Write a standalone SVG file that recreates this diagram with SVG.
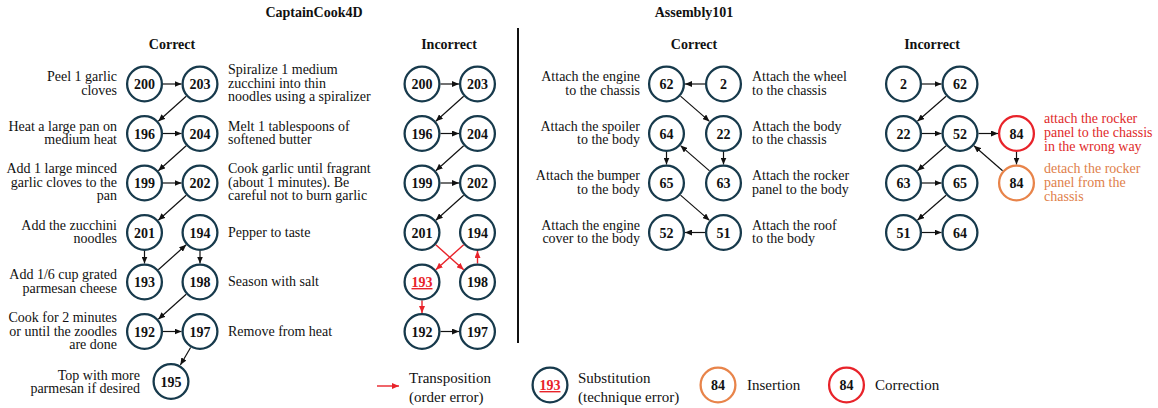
<svg xmlns="http://www.w3.org/2000/svg" width="1158" height="408" viewBox="0 0 1158 408">
  <defs>
    <style>
      text { font-family: "Liberation Serif", "Times New Roman", serif; fill: #111; }
      .title { font-size: 14px; font-weight: bold; text-anchor: middle; }
      .lbl { font-size: 14px; }
      .l { text-anchor: end; }
      .r { text-anchor: start; }
      .leg { font-size: 15px; }
      .node circle { fill: #fff; stroke: #173a4c; stroke-width: 2.3; }
      .node text { font-size: 14px; font-weight: bold; text-anchor: middle; }
      .node.ins circle { stroke: #e8844a; }
      .node.cor circle { stroke: #e8232a; }
      .sub { fill: #e8232a; text-decoration: underline; }
      .edge { stroke: #111; stroke-width: 1.2; fill: none; marker-end: url(#ah); }
      .edge.red { stroke: #e8232a; stroke-width: 1.4; marker-end: url(#ahr); }
      .redtxt { fill: #e02a2a; }
      .orgtxt { fill: #e0804a; }
    </style>
    <marker id="ah" markerUnits="userSpaceOnUse" markerWidth="7" markerHeight="6" refX="7" refY="3" orient="auto">
      <path d="M0,0 L7,3 L0,6 z" fill="#111"/>
    </marker>
    <marker id="ahr" markerUnits="userSpaceOnUse" markerWidth="7" markerHeight="6" refX="7" refY="3" orient="auto">
      <path d="M0,0 L7,3 L0,6 z" fill="#e8232a"/>
    </marker>
  </defs>
  <rect width="1158" height="408" fill="#fff"/>

  <!-- headings -->
  <text class="title" x="314" y="17">CaptainCook4D</text>
  <text class="title" x="694" y="17">Assembly101</text>
  <text class="title" x="172" y="48.5">Correct</text>
  <text class="title" x="449" y="48.5">Incorrect</text>
  <text class="title" x="694" y="48.5">Correct</text>
  <text class="title" x="932" y="48.5">Incorrect</text>

  <!-- divider -->
  <line x1="518" y1="28" x2="518" y2="343" stroke="#111" stroke-width="2"/>

  <!-- step descriptions, CaptainCook4D -->
  <g id="cc-labels" class="lbl">
    <text class="l" x="117" y="81.25">Peel 1 garlic</text>
    <text class="l" x="117" y="94.75">cloves</text>
    <text class="l" x="117" y="130.75">Heat a large pan on</text>
    <text class="l" x="117" y="144.25">medium heat</text>
    <text class="l" x="117" y="173">Add 1 large minced</text>
    <text class="l" x="117" y="186.5">garlic cloves to the</text>
    <text class="l" x="117" y="200">pan</text>
    <text class="l" x="117" y="229.75">Add the zucchini</text>
    <text class="l" x="117" y="243.25">noodles</text>
    <text class="l" x="117" y="279.25">Add 1/6 cup grated</text>
    <text class="l" x="117" y="292.75">parmesan cheese</text>
    <text class="l" x="117" y="322">Cook for 2 minutes</text>
    <text class="l" x="117" y="335.5">or until the zoodles</text>
    <text class="l" x="117" y="349">are done</text>
    <text class="l" x="140" y="379.5">Top with more</text>
    <text class="l" x="140" y="393">parmesan if desired</text>

    <text class="r" x="228" y="74">Spiralize 1 medium</text>
    <text class="r" x="228" y="87.5">zucchini into thin</text>
    <text class="r" x="228" y="101">noodles using a spiralizer</text>
    <text class="r" x="228" y="130.75">Melt 1 tablespoons of</text>
    <text class="r" x="228" y="144.25">softened butter</text>
    <text class="r" x="228" y="173">Cook garlic until fragrant</text>
    <text class="r" x="228" y="186.5">(about 1 minutes). Be</text>
    <text class="r" x="228" y="200">careful not to burn garlic</text>
    <text class="r" x="228" y="236.5">Pepper to taste</text>
    <text class="r" x="228" y="286">Season with salt</text>
    <text class="r" x="228" y="335.5">Remove from heat</text>
  </g>

  <!-- step descriptions, Assembly101 -->
  <g id="as-labels" class="lbl">
    <text class="l" x="640" y="81.25">Attach the engine</text>
    <text class="l" x="640" y="94.75">to the chassis</text>
    <text class="l" x="640" y="130.75">Attach the spoiler</text>
    <text class="l" x="640" y="144.25">to the body</text>
    <text class="l" x="640" y="180.25">Attach the bumper</text>
    <text class="l" x="640" y="193.75">to the body</text>
    <text class="l" x="640" y="229.75">Attach the engine</text>
    <text class="l" x="640" y="243.25">cover to the body</text>

    <text class="r" x="752" y="81.25">Attach the wheel</text>
    <text class="r" x="752" y="94.75">to the chassis</text>
    <text class="r" x="752" y="130.75">Attach the body</text>
    <text class="r" x="752" y="144.25">to the chassis</text>
    <text class="r" x="752" y="180.25">Attach the rocker</text>
    <text class="r" x="752" y="193.75">panel to the body</text>
    <text class="r" x="752" y="229.75">Attach the roof</text>
    <text class="r" x="752" y="243.25">to the body</text>

    <text class="r redtxt" x="1044" y="123">attach the rocker</text>
    <text class="r redtxt" x="1044" y="137">panel to the chassis</text>
    <text class="r redtxt" x="1044" y="151">in the wrong way</text>
    <text class="r orgtxt" x="1044" y="172.5">detach the rocker</text>
    <text class="r orgtxt" x="1044" y="186.5">panel from the</text>
    <text class="r orgtxt" x="1044" y="200.5">chassis</text>
  </g>

  <!-- connectors -->
  <g id="connectors">
    <!-- CaptainCook4D, correct -->
    <line class="edge" x1="163" y1="84" x2="181.5" y2="84"/>
    <line class="edge" x1="186.2" y1="96.3" x2="158.3" y2="121.2"/>
    <line class="edge" x1="163" y1="133.5" x2="181.5" y2="133.5"/>
    <line class="edge" x1="186.2" y1="145.8" x2="158.3" y2="170.7"/>
    <line class="edge" x1="163" y1="183" x2="181.5" y2="183"/>
    <line class="edge" x1="186.2" y1="195.3" x2="158.3" y2="220.2"/>
    <line class="edge" x1="144.5" y1="251" x2="144.5" y2="263.5"/>
    <line class="edge" x1="158.3" y1="269.7" x2="186.2" y2="244.8"/>
    <line class="edge" x1="200" y1="251" x2="200" y2="263.5"/>
    <line class="edge" x1="186.2" y1="294.3" x2="158.3" y2="319.2"/>
    <line class="edge" x1="163" y1="331.5" x2="181.5" y2="331.5"/>
    <line class="edge" x1="190.6" y1="347.5" x2="180.4" y2="365"/>

    <!-- CaptainCook4D, incorrect -->
    <line class="edge" x1="440.5" y1="84" x2="459" y2="84"/>
    <line class="edge" x1="463.7" y1="96.3" x2="435.8" y2="121.2"/>
    <line class="edge" x1="440.5" y1="133.5" x2="459" y2="133.5"/>
    <line class="edge" x1="463.7" y1="145.8" x2="435.8" y2="170.7"/>
    <line class="edge" x1="440.5" y1="183" x2="459" y2="183"/>
    <line class="edge" x1="463.7" y1="195.3" x2="435.8" y2="220.2"/>
    <line class="edge red" x1="435.8" y1="244.8" x2="463.7" y2="269.7"/>
    <line class="edge red" x1="463.7" y1="244.8" x2="435.8" y2="269.7"/>
    <line class="edge red" x1="477.5" y1="263.5" x2="477.5" y2="251"/>
    <line class="edge red" x1="422" y1="300.5" x2="422" y2="313"/>
    <line class="edge" x1="440.5" y1="331.5" x2="459" y2="331.5"/>

    <!-- Assembly101, correct -->
    <line class="edge" x1="705" y1="84" x2="685" y2="84"/>
    <line class="edge" x1="680.5" y1="96.1" x2="709.5" y2="121.4"/>
    <line class="edge" x1="723.5" y1="152" x2="723.5" y2="164.5"/>
    <line class="edge" x1="709.5" y1="170.9" x2="680.5" y2="145.6"/>
    <line class="edge" x1="666.5" y1="152" x2="666.5" y2="164.5"/>
    <line class="edge" x1="680.5" y1="195.1" x2="709.5" y2="220.4"/>
    <line class="edge" x1="705" y1="232.5" x2="685" y2="232.5"/>

    <!-- Assembly101, incorrect -->
    <line class="edge" x1="922" y1="84" x2="941.5" y2="84"/>
    <line class="edge" x1="946.1" y1="96.2" x2="917.4" y2="121.3"/>
    <line class="edge" x1="922" y1="133.5" x2="941.5" y2="133.5"/>
    <line class="edge" x1="978.5" y1="133.5" x2="998" y2="133.5"/>
    <line class="edge" x1="1016.5" y1="152" x2="1016.5" y2="164.5"/>
    <line class="edge" x1="1002.6" y1="170.8" x2="973.9" y2="145.7"/>
    <line class="edge" x1="946.1" y1="145.7" x2="917.4" y2="170.8"/>
    <line class="edge" x1="922" y1="183" x2="941.5" y2="183"/>
    <line class="edge" x1="946.1" y1="195.2" x2="917.4" y2="220.3"/>
    <line class="edge" x1="922" y1="232.5" x2="941.5" y2="232.5"/>

    <!-- legend arrow -->
    <line class="edge red" x1="377" y1="386" x2="399" y2="386"/>
  </g>

  <!-- CaptainCook4D correct nodes -->
  <g id="cc-c-200" class="node"><circle cx="144.5" cy="84" r="17.4"/><text x="144.5" y="89">200</text></g>
  <g id="cc-c-203" class="node"><circle cx="200" cy="84" r="17.4"/><text x="200" y="89">203</text></g>
  <g id="cc-c-196" class="node"><circle cx="144.5" cy="133.5" r="17.4"/><text x="144.5" y="138.5">196</text></g>
  <g id="cc-c-204" class="node"><circle cx="200" cy="133.5" r="17.4"/><text x="200" y="138.5">204</text></g>
  <g id="cc-c-199" class="node"><circle cx="144.5" cy="183" r="17.4"/><text x="144.5" y="188">199</text></g>
  <g id="cc-c-202" class="node"><circle cx="200" cy="183" r="17.4"/><text x="200" y="188">202</text></g>
  <g id="cc-c-201" class="node"><circle cx="144.5" cy="232.5" r="17.4"/><text x="144.5" y="237.5">201</text></g>
  <g id="cc-c-194" class="node"><circle cx="200" cy="232.5" r="17.4"/><text x="200" y="237.5">194</text></g>
  <g id="cc-c-193" class="node"><circle cx="144.5" cy="282" r="17.4"/><text x="144.5" y="287">193</text></g>
  <g id="cc-c-198" class="node"><circle cx="200" cy="282" r="17.4"/><text x="200" y="287">198</text></g>
  <g id="cc-c-192" class="node"><circle cx="144.5" cy="331.5" r="17.4"/><text x="144.5" y="336.5">192</text></g>
  <g id="cc-c-197" class="node"><circle cx="200" cy="331.5" r="17.4"/><text x="200" y="336.5">197</text></g>
  <g id="cc-c-195" class="node"><circle cx="171" cy="381.5" r="17.4"/><text x="171" y="386.5">195</text></g>

  <!-- CaptainCook4D incorrect nodes -->
  <g id="cc-i-200" class="node"><circle cx="422" cy="84" r="17.4"/><text x="422" y="89">200</text></g>
  <g id="cc-i-203" class="node"><circle cx="477.5" cy="84" r="17.4"/><text x="477.5" y="89">203</text></g>
  <g id="cc-i-196" class="node"><circle cx="422" cy="133.5" r="17.4"/><text x="422" y="138.5">196</text></g>
  <g id="cc-i-204" class="node"><circle cx="477.5" cy="133.5" r="17.4"/><text x="477.5" y="138.5">204</text></g>
  <g id="cc-i-199" class="node"><circle cx="422" cy="183" r="17.4"/><text x="422" y="188">199</text></g>
  <g id="cc-i-202" class="node"><circle cx="477.5" cy="183" r="17.4"/><text x="477.5" y="188">202</text></g>
  <g id="cc-i-201" class="node"><circle cx="422" cy="232.5" r="17.4"/><text x="422" y="237.5">201</text></g>
  <g id="cc-i-194" class="node"><circle cx="477.5" cy="232.5" r="17.4"/><text x="477.5" y="237.5">194</text></g>
  <g id="cc-i-193" class="node"><circle cx="422" cy="282" r="17.4"/><text class="sub" x="422" y="287">193</text></g>
  <g id="cc-i-198" class="node"><circle cx="477.5" cy="282" r="17.4"/><text x="477.5" y="287">198</text></g>
  <g id="cc-i-192" class="node"><circle cx="422" cy="331.5" r="17.4"/><text x="422" y="336.5">192</text></g>
  <g id="cc-i-197" class="node"><circle cx="477.5" cy="331.5" r="17.4"/><text x="477.5" y="336.5">197</text></g>

  <!-- Assembly101 correct nodes -->
  <g id="as-c-62" class="node"><circle cx="666.5" cy="84" r="17.4"/><text x="666.5" y="89">62</text></g>
  <g id="as-c-2" class="node"><circle cx="723.5" cy="84" r="17.4"/><text x="723.5" y="89">2</text></g>
  <g id="as-c-64" class="node"><circle cx="666.5" cy="133.5" r="17.4"/><text x="666.5" y="138.5">64</text></g>
  <g id="as-c-22" class="node"><circle cx="723.5" cy="133.5" r="17.4"/><text x="723.5" y="138.5">22</text></g>
  <g id="as-c-65" class="node"><circle cx="666.5" cy="183" r="17.4"/><text x="666.5" y="188">65</text></g>
  <g id="as-c-63" class="node"><circle cx="723.5" cy="183" r="17.4"/><text x="723.5" y="188">63</text></g>
  <g id="as-c-52" class="node"><circle cx="666.5" cy="232.5" r="17.4"/><text x="666.5" y="237.5">52</text></g>
  <g id="as-c-51" class="node"><circle cx="723.5" cy="232.5" r="17.4"/><text x="723.5" y="237.5">51</text></g>

  <!-- Assembly101 incorrect nodes -->
  <g id="as-i-2" class="node"><circle cx="903.5" cy="84" r="17.4"/><text x="903.5" y="89">2</text></g>
  <g id="as-i-62" class="node"><circle cx="960" cy="84" r="17.4"/><text x="960" y="89">62</text></g>
  <g id="as-i-22" class="node"><circle cx="903.5" cy="133.5" r="17.4"/><text x="903.5" y="138.5">22</text></g>
  <g id="as-i-52" class="node"><circle cx="960" cy="133.5" r="17.4"/><text x="960" y="138.5">52</text></g>
  <g id="as-i-84a" class="node cor"><circle cx="1016.5" cy="133.5" r="17.4"/><text x="1016.5" y="138.5">84</text></g>
  <g id="as-i-63" class="node"><circle cx="903.5" cy="183" r="17.4"/><text x="903.5" y="188">63</text></g>
  <g id="as-i-65" class="node"><circle cx="960" cy="183" r="17.4"/><text x="960" y="188">65</text></g>
  <g id="as-i-84b" class="node ins"><circle cx="1016.5" cy="183" r="17.4"/><text x="1016.5" y="188">84</text></g>
  <g id="as-i-51" class="node"><circle cx="903.5" cy="232.5" r="17.4"/><text x="903.5" y="237.5">51</text></g>
  <g id="as-i-64" class="node"><circle cx="960" cy="232.5" r="17.4"/><text x="960" y="237.5">64</text></g>

  <!-- legend -->
  <g id="legend">
    <text class="leg" x="409" y="382.5">Transposition</text>
    <text class="leg" x="409" y="401.5">(order error)</text>
    <g id="leg-sub" class="node"><circle cx="550" cy="385" r="17.4"/><text class="sub" x="550" y="390">193</text></g>
    <text class="leg" x="578" y="382.5">Substitution</text>
    <text class="leg" x="578" y="401.5">(technique error)</text>
    <g id="leg-ins" class="node ins"><circle cx="718" cy="385" r="17.4"/><text x="718" y="390">84</text></g>
    <text class="leg" x="747" y="390">Insertion</text>
    <g id="leg-cor" class="node cor"><circle cx="846.5" cy="385" r="17.4"/><text x="846.5" y="390">84</text></g>
    <text class="leg" x="875" y="390">Correction</text>
  </g>
</svg>
